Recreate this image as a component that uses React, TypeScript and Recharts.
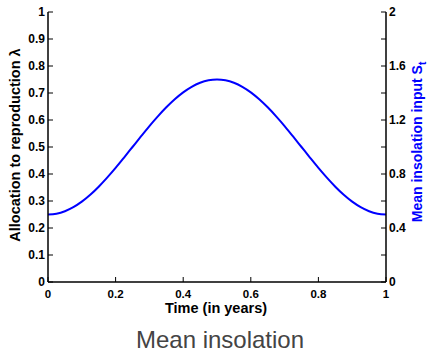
import { LineChart, Line, XAxis, YAxis, Label } from "recharts";

// time in years and mean insolation input S_t (right axis)
const times = [
  0, 0.025, 0.05, 0.075, 0.1, 0.125, 0.15, 0.175, 0.2, 0.225, 0.25, 0.275, 0.3, 0.325, 0.35, 0.375, 0.4, 0.425, 0.45, 0.475,
  0.5, 0.525, 0.55, 0.575, 0.6, 0.625, 0.65, 0.675, 0.7, 0.725, 0.75, 0.775, 0.8, 0.825, 0.85, 0.875, 0.9, 0.925, 0.95, 0.975, 1,
];
const insolation = [
  0.5, 0.506, 0.524, 0.554, 0.595, 0.646, 0.706, 0.773, 0.845, 0.922, 1.0, 1.078, 1.155, 1.227, 1.294, 1.354, 1.405, 1.446, 1.476, 1.494,
  1.5, 1.494, 1.476, 1.446, 1.405, 1.354, 1.294, 1.227, 1.155, 1.078, 1.0, 0.922, 0.845, 0.773, 0.706, 0.646, 0.595, 0.554, 0.524, 0.506, 0.5,
];

const xTicks = [0, 0.2, 0.4, 0.6, 0.8, 1];
const xTickLabels = ["0", "0.2", "0.4", "0.6", "0.8", "1"];
const leftTicks = [0, 0.1, 0.2, 0.3, 0.4, 0.5, 0.6, 0.7, 0.8, 0.9, 1];
const leftTickLabels = ["0", "0.1", "0.2", "0.3", "0.4", "0.5", "0.6", "0.7", "0.8", "0.9", "1"];
const rightTicks = [0, 0.2, 0.4, 0.6, 0.8, 1, 1.2, 1.4, 1.6, 1.8, 2];
const rightTickLabels = ["0", "", "0.4", "", "0.8", "", "1.2", "", "1.6", "", "2"];

const data = times.map((t, i) => ({ t, s: insolation[i] }));

const FONT = "'Liberation Sans', Arial, Helvetica, sans-serif";
const TICK_LEN = 5;

function LeftTick({ x, y, index }: any) {
  return (
    <g>
      <line x1={x} y1={y} x2={x + TICK_LEN} y2={y} stroke="#000" strokeWidth={1} />
      <text x={x - 3} y={y} textAnchor="end" dominantBaseline="central" fontFamily={FONT} fontWeight="bold" fontSize={12} fill="#000">
        {leftTickLabels[index]}
      </text>
    </g>
  );
}

function RightTick({ x, y, index }: any) {
  return (
    <g>
      <line x1={x} y1={y} x2={x - TICK_LEN} y2={y} stroke="#000" strokeWidth={1} />
      <text x={x + 3} y={y} textAnchor="start" dominantBaseline="central" fontFamily={FONT} fontWeight="bold" fontSize={12} fill="#000">
        {rightTickLabels[index]}
      </text>
    </g>
  );
}

function BottomTick({ x, y, index }: any) {
  return (
    <g>
      <line x1={x} y1={y} x2={x} y2={y - TICK_LEN} stroke="#000" strokeWidth={1} />
      <text x={x} y={y + 12} textAnchor="middle" dominantBaseline="central" fontFamily={FONT} fontWeight="bold" fontSize={11.5} fill="#000">
        {xTickLabels[index]}
      </text>
    </g>
  );
}

function TopTick({ x, y }: any) {
  return <line x1={x} y1={y} x2={x} y2={y + TICK_LEN} stroke="#000" strokeWidth={1} />;
}

function LeftLabel({ viewBox }: any) {
  const cx = viewBox.x + 7;
  const cy = viewBox.y + viewBox.height / 2 - 2;
  return (
    <text x={cx} y={cy} transform={`rotate(-90, ${cx}, ${cy})`} textAnchor="middle" dominantBaseline="central" fontFamily={FONT} fontWeight="bold" fontSize={14.5} fill="#000">
      Allocation to reproduction λ
    </text>
  );
}

function RightLabel({ viewBox }: any) {
  const cx = viewBox.x + 31;
  const cy = viewBox.y + viewBox.height / 2 - 5;
  return (
    <text x={cx} y={cy} transform={`rotate(-90, ${cx}, ${cy})`} textAnchor="middle" dominantBaseline="central" fontFamily={FONT} fontWeight="bold" fontSize={14} fill="#0000ff">
      Mean insolation input S<tspan dy={5} fontSize={10}>t</tspan>
    </text>
  );
}

function BottomLabel({ viewBox }: any) {
  return (
    <text x={viewBox.x + viewBox.width / 2 - 1} y={viewBox.y + 26} textAnchor="middle" dominantBaseline="central" fontFamily={FONT} fontWeight="bold" fontSize={14.5} fill="#000">
      Time (in years)
    </text>
  );
}

export default function App() {
  return (
    <div style={{ position: "absolute", left: 0, top: 0, width: 430, height: 352, background: "#fff", overflow: "hidden" }}>
      <LineChart width={430} height={352} data={data} margin={{ top: 12, right: 8, bottom: 30, left: 8 }}>
        <XAxis
          xAxisId="bottom"
          dataKey="t"
          type="number"
          domain={[0, 1]}
          allowDataOverflow
          ticks={xTicks}
          orientation="bottom"
          height={40}
          tickSize={0}
          tickMargin={0}
          tickLine={false}
          axisLine={{ stroke: "#000", strokeWidth: 1.5 }}
          tick={<BottomTick />}
          interval={0}
        >
          <Label content={<BottomLabel />} />
        </XAxis>
        <XAxis
          xAxisId="top"
          dataKey="t"
          type="number"
          domain={[0, 1]}
          allowDataOverflow
          ticks={xTicks}
          orientation="top"
          height={0}
          tickSize={0}
          tickMargin={0}
          tickLine={false}
          axisLine={{ stroke: "#000", strokeWidth: 1.5 }}
          tick={<TopTick />}
          interval={0}
        />
        <YAxis
          yAxisId="left"
          type="number"
          domain={[0, 1]}
          allowDataOverflow
          ticks={leftTicks}
          orientation="left"
          width={40}
          tickSize={0}
          tickMargin={0}
          tickLine={false}
          axisLine={{ stroke: "#000", strokeWidth: 1.5 }}
          tick={<LeftTick />}
          interval={0}
        >
          <Label content={<LeftLabel />} />
        </YAxis>
        <YAxis
          yAxisId="right"
          type="number"
          domain={[0, 2]}
          allowDataOverflow
          ticks={rightTicks}
          orientation="right"
          width={36}
          tickSize={0}
          tickMargin={0}
          tickLine={false}
          axisLine={{ stroke: "#000", strokeWidth: 1.5 }}
          tick={<RightTick />}
          interval={0}
        >
          <Label content={<RightLabel />} />
        </YAxis>
        {/* invisible series so the top and left axes get drawn */}
        <Line
          xAxisId="top"
          yAxisId="left"
          dataKey="s"
          type="monotone"
          stroke="none"
          dot={false}
          activeDot={false}
          isAnimationActive={false}
        />
        <Line
          xAxisId="bottom"
          yAxisId="right"
          dataKey="s"
          type="monotone"
          stroke="#0000ff"
          strokeWidth={2}
          dot={false}
          isAnimationActive={false}
        />
      </LineChart>
      <div
        style={{
          position: "absolute",
          left: 0,
          width: 440,
          top: 329,
          textAlign: "center",
          fontFamily: FONT,
          fontSize: 24,
          color: "#444",
          lineHeight: "22px",
        }}
      >
        Mean insolation
      </div>
    </div>
  );
}
